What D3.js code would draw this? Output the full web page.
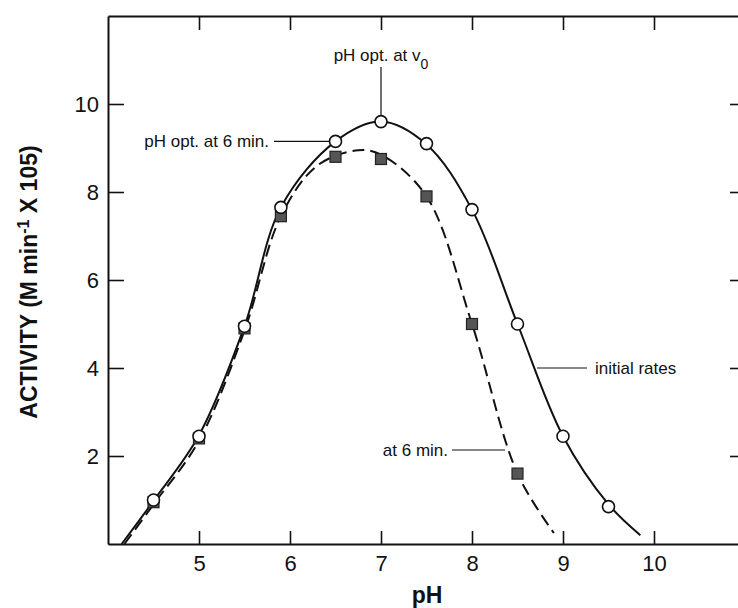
<!DOCTYPE html>
<html>
<head>
<meta charset="utf-8">
<script src="https://cdn.jsdelivr.net/npm/d3@7"></script>
<style>
  body { margin: 0; background: #fff; }
  svg text { font-family: "Liberation Sans", Arial, sans-serif; fill: #111; }
</style>
</head>
<body>
<svg width="738" height="608"></svg>
<script>
// values
const initialPH = [4.5, 5.0, 5.5, 5.9, 6.5, 7.0, 7.5, 8.0, 8.5, 9.0, 9.5];
const initialRates = [1.0, 2.45, 4.95, 7.65, 9.15, 9.6, 9.1, 7.6, 5.0, 2.45, 0.85];
const sixMinPH = [4.5, 5.0, 5.5, 5.9, 6.5, 7.0, 7.5, 8.0, 8.5];
const sixMinRates = [0.95, 2.4, 4.9, 7.45, 8.8, 8.75, 7.9, 5.0, 1.6];
// hand drawn fitted curves
const initialCurvePH = [4.15, 4.5, 5.0, 5.5, 5.9, 6.5, 7.0, 7.5, 8.0, 8.5, 9.0, 9.5, 9.85];
const initialCurveVal = [0, 0.98, 2.47, 4.95, 7.65, 9.15, 9.6, 9.08, 7.6, 5.0, 2.45, 0.9, 0.2];
const sixMinCurvePH = [4.18, 4.5, 5.0, 5.5, 5.9, 6.3, 6.75, 7.0, 7.5, 8.0, 8.5, 8.9];
const sixMinCurveVal = [0, 0.9, 2.35, 4.85, 7.45, 8.6, 8.95, 8.85, 7.9, 5.0, 1.6, 0.25];
const xTicks = [5, 6, 7, 8, 9, 10];
const yTicks = [2, 4, 6, 8, 10];

const svg = d3.select("svg");
const x = d3.scaleLinear().domain([4, 11]).range([108, 745]);
const y = d3.scaleLinear().domain([0, 12]).range([544, 16]);

// axes, ticks pointing inward
const axes = svg.append("g");
axes.append("g")
  .attr("transform", `translate(0,${y(0)})`)
  .call(d3.axisBottom(x).tickValues(xTicks).tickFormat(d3.format("d"))
    .tickSizeInner(-13).tickSizeOuter(0).tickPadding(11));
axes.append("g")
  .attr("transform", `translate(0,${y(12)})`)
  .call(d3.axisTop(x).tickValues(xTicks).tickSizeInner(-14).tickSizeOuter(0).tickFormat(""));
axes.append("g")
  .attr("transform", `translate(${x(4)},0)`)
  .call(d3.axisLeft(y).tickValues(yTicks).tickFormat(d3.format("d"))
    .tickSizeInner(-16).tickSizeOuter(0).tickPadding(9));
axes.append("g")
  .attr("transform", `translate(${x(11)},0)`)
  .call(d3.axisRight(y).tickValues(yTicks).tickSizeInner(-15).tickSizeOuter(0).tickFormat(""));
axes.selectAll(".domain").attr("stroke", "#111").attr("stroke-width", 2);
axes.selectAll(".tick line").attr("stroke", "#111").attr("stroke-width", 1.6);
axes.selectAll(".tick text")
  .style("font-size", "22px")
  .style("font-family", "'Liberation Sans', Arial, sans-serif")
  .attr("fill", "#111");

// axis titles
svg.append("text")
  .attr("x", 427).attr("y", 603)
  .attr("text-anchor", "middle")
  .style("font-size", "23px").style("font-weight", "bold")
  .text("pH");

const yTitle = svg.append("text")
  .attr("transform", "translate(37,282) rotate(-90)")
  .attr("text-anchor", "middle")
  .style("font-size", "23px").style("font-weight", "bold");
yTitle.append("tspan").text("ACTIVITY (M min");
yTitle.append("tspan").attr("baseline-shift", "super").style("font-size", "16px").text("-1");
yTitle.append("tspan").text(" X 105)");

// curves
const line = d3.line()
  .x((d) => x(d[0]))
  .y((d) => y(d[1]))
  .curve(d3.curveCatmullRom.alpha(0.5));

svg.append("path")
  .datum(sixMinCurvePH.map((p, i) => [p, sixMinCurveVal[i]]))
  .attr("d", line)
  .attr("fill", "none")
  .attr("stroke", "#111")
  .attr("stroke-width", 2)
  .attr("stroke-dasharray", "12,6");

svg.append("path")
  .datum(initialCurvePH.map((p, i) => [p, initialCurveVal[i]]))
  .attr("d", line)
  .attr("fill", "none")
  .attr("stroke", "#111")
  .attr("stroke-width", 2);

// markers
svg.append("g").selectAll("rect")
  .data(sixMinPH.map((p, i) => [p, sixMinRates[i]]))
  .enter()
  .append("rect")
  .attr("x", (d) => x(d[0]) - 5.5)
  .attr("y", (d) => y(d[1]) - 5.5)
  .attr("width", 11).attr("height", 11)
  .attr("fill", "#555")
  .attr("stroke", "#222")
  .attr("stroke-width", 1.2);

svg.append("g").selectAll("circle")
  .data(initialPH.map((p, i) => [p, initialRates[i]]))
  .enter()
  .append("circle")
  .attr("cx", (d) => x(d[0]))
  .attr("cy", (d) => y(d[1]))
  .attr("r", 6)
  .attr("fill", "#fff")
  .attr("stroke", "#111")
  .attr("stroke-width", 1.6);

// annotations
const notes = svg.append("g").style("font-size", "17px");
const leader = (x1, y1, x2, y2) =>
  notes.append("line")
    .attr("x1", x1).attr("y1", y1).attr("x2", x2).attr("y2", y2)
    .attr("stroke", "#111").attr("stroke-width", 1.2);

const vo = notes.append("text")
  .attr("x", x(7)).attr("y", 61)
  .attr("text-anchor", "middle");
vo.append("tspan").text("pH opt. at v");
vo.append("tspan").attr("baseline-shift", "sub").style("font-size", "14px").text("0");
leader(x(7), 67, x(7), y(9.6) - 6);

notes.append("text")
  .attr("x", 269).attr("y", y(9.15) + 6)
  .attr("text-anchor", "end")
  .text("pH opt. at 6 min.");
leader(274, y(9.15), x(6.5) - 6, y(9.15));

notes.append("text")
  .attr("x", 595).attr("y", 374)
  .text("initial rates");
leader(537, 368, 587, 368);

notes.append("text")
  .attr("x", 448).attr("y", 456)
  .attr("text-anchor", "end")
  .text("at 6 min.");
leader(452, 450, 505, 450);
</script>
</body>
</html>
